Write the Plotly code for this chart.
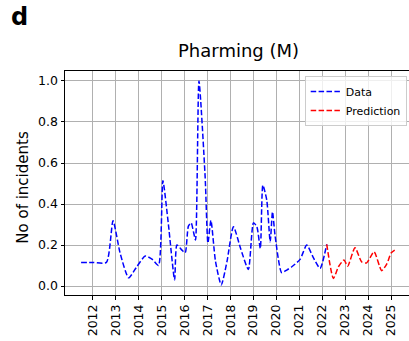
import plotly.graph_objects as go

# Observed data (year, incidents in millions)
data_years = [2011.5, 2012.0, 2012.6, 2012.89, 2013.2, 2013.57, 2013.9, 2014.29, 2014.6, 2014.87,
              2015.06, 2015.3, 2015.57, 2015.67, 2015.89, 2016.03, 2016.17, 2016.29, 2016.39, 2016.48,
              2016.63, 2016.9, 2017.02, 2017.15, 2017.35, 2017.6, 2017.85, 2018.13, 2018.45, 2018.78,
              2019.0, 2019.15, 2019.3, 2019.41, 2019.58, 2019.73, 2019.83, 2019.94, 2020.23, 2020.45,
              2020.67, 2021.03, 2021.32, 2021.6, 2021.9, 2022.19]
data_values = [0.115, 0.115, 0.115, 0.318, 0.16, 0.04, 0.09, 0.146, 0.13, 0.10,
               0.513, 0.30, 0.03, 0.20, 0.175, 0.162, 0.292, 0.308, 0.265, 0.224,
               1.0, 0.53, 0.21, 0.32, 0.12, 0.005, 0.12, 0.289, 0.18, 0.081,
               0.308, 0.289, 0.183, 0.492, 0.419, 0.216, 0.362, 0.248, 0.065, 0.078,
               0.094, 0.13, 0.20, 0.14, 0.086, 0.203]

# Predicted values
pred_years = [2022.19, 2022.48, 2022.7, 2022.94, 2023.1, 2023.42, 2023.71, 2023.93, 2024.25,
              2024.58, 2024.8, 2025.0, 2025.22]
pred_values = [0.203, 0.037, 0.094, 0.127, 0.097, 0.187, 0.118, 0.113, 0.167,
               0.075, 0.107, 0.162, 0.18]

tick_years = list(range(2012, 2026))
tick_labels = [str(y) for y in tick_years]
y_ticks = [0.0, 0.2, 0.4, 0.6, 0.8, 1.0]
y_tick_labels = ["0.0", "0.2", "0.4", "0.6", "0.8", "1.0"]

FONT = "DejaVu Sans"
L, T, B = 65, 71, 46
W, H = 409, 341
pw = W - L
ph = H - T - B

def px(x):
    return (x - L) / pw

def py(y):
    return (H - B - y) / ph

fig = go.Figure()
fig.add_trace(go.Scatter(x=data_years, y=data_values, mode="lines", name="Data",
                         line=dict(color="#0000ff", width=1.5, dash="5.5px,2.4px", shape="spline", smoothing=0.6)))
fig.add_trace(go.Scatter(x=pred_years, y=pred_values, mode="lines", name="Prediction",
                         line=dict(color="#ff0000", width=1.5, dash="5.5px,2.4px", shape="spline", smoothing=0.6)))

fig.update_layout(
    width=W, height=H,
    margin=dict(l=L, r=0, t=T, b=B, pad=0),
    paper_bgcolor="white", plot_bgcolor="white",
    font=dict(family=FONT, size=12, color="black"),
    showlegend=True,
    legend=dict(x=px(406.7), y=py(76), xanchor="right", yanchor="top",
                bgcolor="rgba(255,255,255,0.8)", bordercolor="#cccccc", borderwidth=1,
                font=dict(family=FONT, size=11, color="black"),
                itemwidth=30, tracegroupgap=0),
    xaxis=dict(range=[2010.8, 2025.77], tickmode="array", tickvals=tick_years, ticktext=tick_labels,
               tickangle=-90, ticks="outside", ticklen=3.5, tickwidth=0.8, tickcolor="black",
               showline=True, linecolor="black", linewidth=1, mirror=True,
               showgrid=True, gridcolor="#b0b0b0", gridwidth=0.8, zeroline=False,
               tickfont=dict(family=FONT, size=12.5, color="black")),
    yaxis=dict(range=[-0.0438, 1.0487], tickmode="array", tickvals=y_ticks, ticktext=y_tick_labels,
               ticks="outside", ticklen=3.5, tickwidth=0.8, tickcolor="black",
               showline=True, linecolor="black", linewidth=1, mirror=False,
               showgrid=True, gridcolor="#b0b0b0", gridwidth=0.8, zeroline=False,
               tickfont=dict(family=FONT, size=12.5, color="black")),
    annotations=[
        dict(text="Pharming (M)", x=px(238), y=py(50), xref="paper", yref="paper",
             xanchor="center", yanchor="middle", showarrow=False,
             font=dict(family=FONT, size=18, color="black")),
        dict(text="<b>d</b>", x=px(19), y=py(17), xref="paper", yref="paper",
             xanchor="center", yanchor="middle", showarrow=False,
             font=dict(family=FONT, size=24, color="black")),
        dict(text="No of incidents", x=px(22.7), y=py(187), xref="paper", yref="paper",
             xanchor="center", yanchor="middle", showarrow=False, textangle=-90,
             font=dict(family=FONT, size=15, color="black")),
    ],
)

fig.write_html("out.html")
